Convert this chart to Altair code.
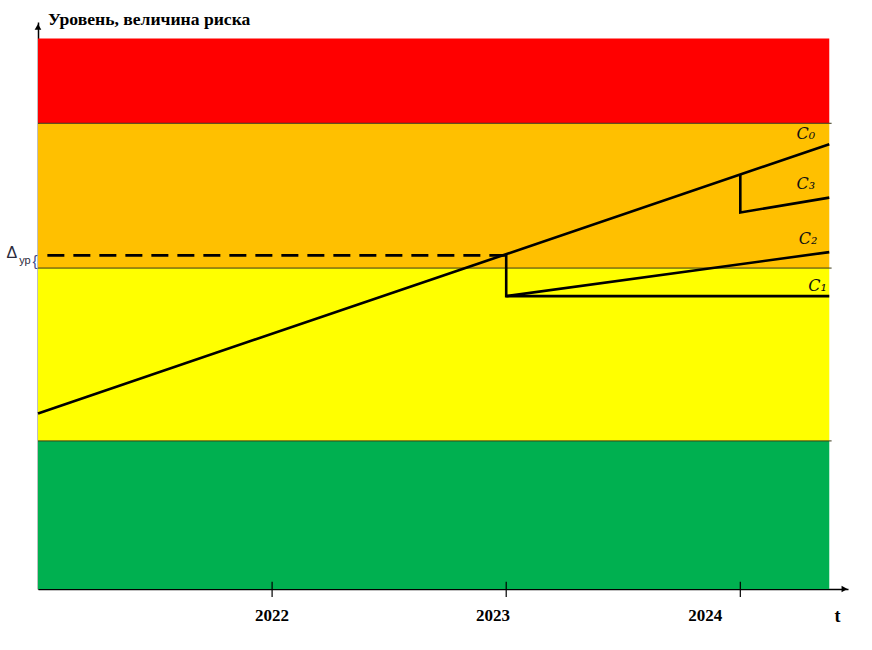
import altair as alt
import pandas as pd

# Risk zones (level scale 0..100), bottom to top
zone_names = ["низкий", "средний", "высокий", "критический"]
zone_low = [0.0, 26.9, 58.3, 84.6]
zone_high = [26.9, 58.3, 84.6, 100.0]
zone_colors = ["#00B050", "#FFFF00", "#FFC000", "#FF0000"]
zone_start = 2021.0
zone_end = 2024.38

# Risk trajectories C0..C3: (time, level, point order)
c0_t = [2021.0, 2024.38]
c0_v = [31.9, 80.8]
c1_t = [2023.0, 2023.0, 2024.38]
c1_v = [60.8, 53.2, 53.2]
c2_t = [2023.0, 2024.38]
c2_v = [53.2, 61.2]
c3_t = [2024.0, 2024.0, 2024.38]
c3_v = [75.3, 68.4, 71.1]

# Level reached by C0 at the 2023 checkpoint
delta_level = 60.6
delta_t = [2021.04, 2023.0]

# Curve labels
label_text = ["C₀", "C₃", "C₂", "C₁"]
label_t = [2024.28, 2024.28, 2024.29, 2024.33]
label_v = [82.6, 73.6, 63.6, 55.0]

# Year ticks and their captions (captions sit slightly left of later ticks)
year_ticks = [2022, 2023, 2024]
year_text = ["2022", "2023", "2024"]
year_text_t = [2022.0, 2022.944, 2023.85]

x_min, x_max = 2021.0, 2024.46
y_min, y_max = 0.0, 103.0

xs = alt.Scale(domain=[x_min, x_max], nice=False, zero=False)
ys = alt.Scale(domain=[y_min, y_max], nice=False, zero=False)

zones = pd.DataFrame({
    "name": zone_names, "lo": zone_low, "hi": zone_high, "color": zone_colors,
    "x0": [zone_start] * 4, "x1": [zone_end] * 4,
})

rows = []
for name, ts, vs in [("C0", c0_t, c0_v), ("C1", c1_t, c1_v),
                     ("C2", c2_t, c2_v), ("C3", c3_t, c3_v)]:
    for i, (t, v) in enumerate(zip(ts, vs)):
        rows.append({"series": name, "t": t, "v": v, "i": i})
paths = pd.DataFrame(rows)

x_enc = alt.X("t:Q", scale=xs, axis=alt.Axis(
    title=None, grid=False, ticks=False, labels=False,
    domainColor="black", domainWidth=1.5))
y_enc = alt.Y("v:Q", scale=ys, axis=alt.Axis(
    title=None, grid=False, ticks=False, labels=False,
    domainColor="black", domainWidth=1.5))

base_axes = alt.Chart(pd.DataFrame({"t": [x_min], "v": [y_min]})).mark_point(
    opacity=0).encode(x=x_enc, y=y_enc)

bands = alt.Chart(zones).mark_rect().encode(
    x=alt.X("x0:Q", scale=xs), x2="x1:Q",
    y=alt.Y("lo:Q", scale=ys), y2="hi:Q",
    color=alt.Color("color:N", scale=None),
)

borders = alt.Chart(pd.DataFrame({
    "lv": zone_high[:3], "x0": [zone_start] * 3, "x1": [zone_end + 0.01] * 3,
})).mark_rule(color="#3a3a1a", strokeWidth=1).encode(
    x=alt.X("x0:Q", scale=xs), x2="x1:Q", y=alt.Y("lv:Q", scale=ys))

curves = alt.Chart(paths).mark_line(color="black", strokeWidth=2.6).encode(
    x=alt.X("t:Q", scale=xs), y=alt.Y("v:Q", scale=ys),
    detail="series:N", order="i:Q")

dashed = alt.Chart(pd.DataFrame({"t": delta_t, "v": [delta_level] * 2})).mark_line(
    color="black", strokeWidth=2.6, strokeDash=[17, 9]).encode(
    x=alt.X("t:Q", scale=xs), y=alt.Y("v:Q", scale=ys))

labels = alt.Chart(pd.DataFrame({"txt": label_text, "t": label_t, "v": label_v})).mark_text(
    font="DejaVu Serif", fontStyle="italic", fontSize=16, color="#111",
    align="center", baseline="middle").encode(
    x=alt.X("t:Q", scale=xs), y=alt.Y("v:Q", scale=ys), text="txt:N")

ticks = alt.Chart(pd.DataFrame({"t": year_ticks})).mark_rule(
    color="black", strokeWidth=1.2).encode(
    x=alt.X("t:Q", scale=xs), y=alt.datum(-1.45), y2=alt.datum(1.3))

year_labels = alt.Chart(pd.DataFrame({
    "t": year_text_t, "txt": year_text, "v": [-4.9] * 3,
})).mark_text(
    font="Liberation Serif", fontWeight="bold", fontSize=17, color="black",
    align="center", baseline="middle").encode(
    x=alt.X("t:Q", scale=xs), y=alt.Y("v:Q", scale=ys), text="txt:N")

arrows = alt.Chart(pd.DataFrame({
    "t": [x_max - 0.015, x_min], "v": [y_min, y_max - 0.9],
    "shape": ["triangle-right", "triangle-up"],
})).mark_point(filled=True, color="black", size=45, opacity=1).encode(
    x=alt.X("t:Q", scale=xs), y=alt.Y("v:Q", scale=ys),
    shape=alt.Shape("shape:N", scale=None))

axis_t = alt.Chart(pd.DataFrame({"t": [2024.415], "v": [-5.0], "txt": ["t"]})).mark_text(
    font="Liberation Serif", fontWeight="bold", fontSize=18, color="black",
    baseline="middle").encode(
    x=alt.X("t:Q", scale=xs), y=alt.Y("v:Q", scale=ys), text="txt:N")

title = alt.Chart(pd.DataFrame({"t": [2021.043], "v": [102.45],
                                "txt": ["Уровень, величина риска"]})).mark_text(
    font="Liberation Serif", fontWeight="bold", fontSize=17.6, color="black",
    align="left", baseline="alphabetic").encode(
    x=alt.X("t:Q", scale=xs), y=alt.Y("v:Q", scale=ys), text="txt:N")

# Δ_ур marker to the left of the level axis
delta_sym = alt.Chart(pd.DataFrame({"t": [2020.888], "v": [61.1], "txt": ["Δ"]})).mark_text(
    font="Liberation Sans", fontSize=16, color="#2b2b3b",
    align="center", baseline="middle").encode(
    x=alt.X("t:Q", scale=xs), y=alt.Y("v:Q", scale=ys), text="txt:N")
delta_sub = alt.Chart(pd.DataFrame({"t": [2020.944], "v": [59.5], "txt": ["ур"]})).mark_text(
    font="Liberation Sans", fontSize=11, color="#2b2b3b",
    align="center", baseline="middle").encode(
    x=alt.X("t:Q", scale=xs), y=alt.Y("v:Q", scale=ys), text="txt:N")
brace = alt.Chart(pd.DataFrame({"t": [2020.987], "v": [59.6], "txt": ["{"]})).mark_text(
    font="Liberation Sans", fontSize=15, color="#3b4a8c",
    align="center", baseline="middle").encode(
    x=alt.X("t:Q", scale=xs), y=alt.Y("v:Q", scale=ys), text="txt:N")

chart = alt.layer(
    bands, borders, base_axes, curves, dashed, labels, ticks, year_labels,
    arrows, axis_t, title, delta_sym, delta_sub, brace,
).properties(
    width=810, height=567,
    padding={"left": 38, "top": 22, "right": 24, "bottom": 61},
    autosize=alt.AutoSizeParams(type="none"),
    background="white",
).configure_view(stroke=None)

chart.save("out.html", embed_options={"renderer": "svg", "actions": False})
